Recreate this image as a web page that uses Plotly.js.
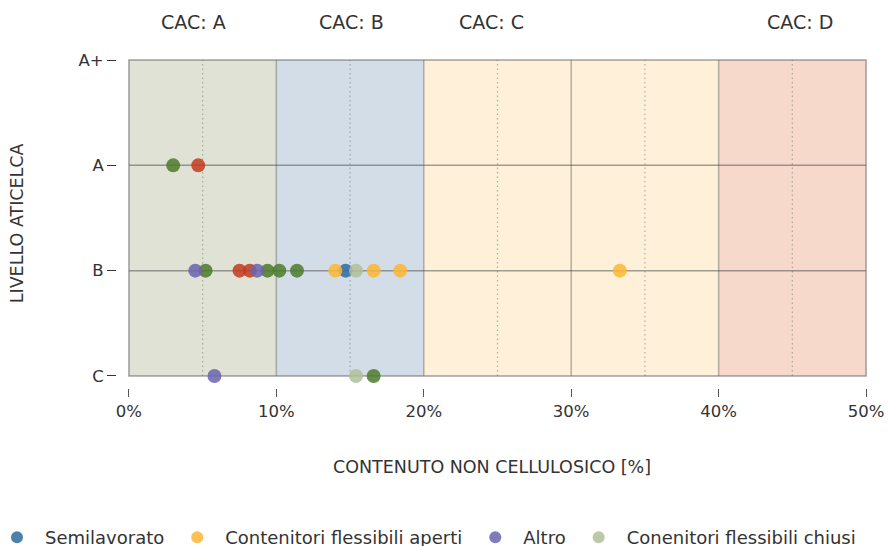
<!DOCTYPE html>
<html>
<head>
<meta charset="utf-8">
<script src="https://cdn.plot.ly/plotly-3.0.1.min.js"></script>
<style>html,body{margin:0;padding:0;background:#fff;}#chart{width:888px;height:546px;}</style>
</head>
<body>
<div id="chart"></div>
<script>
// Levels (bottom to top)
const levels = ['C', 'B', 'A', 'A+'];
const xTicks = [0, 10, 20, 30, 40, 50];

// CAC bands
const bandNames = ['CAC: A', 'CAC: B', 'CAC: C', 'CAC: D'];
const bandStart = [0, 10, 20, 40];
const bandEnd = [10, 20, 40, 50];
const bandLabelX = [4.4, 15.1, 24.6, 45.5];
const bandColors = ['#dfe2d4', '#d3dde8', '#fff0d9', '#f7d9cc'];

// Series
const semilavoratoX = [14.7];
const semilavoratoY = ['B'];
const apertiX = [14.0, 16.6, 18.4, 33.3];
const apertiY = ['B', 'B', 'B', 'B'];
const altroX = [4.5, 8.7, 5.8];
const altroY = ['B', 'B', 'C'];
const chiusiX = [15.4, 15.4];
const chiusiY = ['B', 'C'];
const greenX = [3.0, 5.2, 9.4, 10.2, 11.4, 16.6];
const greenY = ['A', 'B', 'B', 'B', 'B', 'C'];
const redX = [4.7, 7.5, 8.2];
const redY = ['A', 'B', 'B'];

const lv = arr => arr.map(v => levels.indexOf(v));

function tr(name, x, y, color, showlegend) {
  return {
    type: 'scatter', mode: 'markers', name: name,
    x: x, y: lv(y), showlegend: showlegend,
    marker: {color: color, size: 14, opacity: 0.85},
    hoverinfo: 'x+name'
  };
}

const data = [
  tr('Verde', greenX, greenY, '#4c7a2a', false),
  tr('Rosso', redX, redY, '#c23a1e', false),
  tr('Semilavorato', semilavoratoX, semilavoratoY, '#2f6a9e', true),
  tr('Contenitori flessibili aperti', apertiX, apertiY, '#fbb733', true),
  tr('Altro', altroX, altroY, '#6a64ae', true),
  tr('Conenitori flessibili chiusi', chiusiX, chiusiY, '#b0bf9a', true)
];

const shapes = [];
for (let i = 0; i < bandNames.length; i++) {
  shapes.push({type: 'rect', layer: 'below', xref: 'x', yref: 'y',
    x0: bandStart[i], x1: bandEnd[i], y0: 0, y1: levels.length - 1,
    fillcolor: bandColors[i], line: {width: 0}});
}
// dotted mid lines
[5, 15, 25, 35, 45].forEach(v => shapes.push({type: 'line', layer: 'below', xref: 'x', yref: 'y',
  x0: v, x1: v, y0: 0, y1: levels.length - 1, line: {color: 'rgba(120,120,120,0.55)', width: 1.2, dash: '1.5px,3px'}}));
// solid band lines
[10, 20, 30, 40].forEach(v => shapes.push({type: 'line', layer: 'below', xref: 'x', yref: 'y',
  x0: v, x1: v, y0: 0, y1: levels.length - 1, line: {color: 'rgba(110,110,100,0.5)', width: 1.5}}));
// horizontal level lines
[1, 2].forEach(v => shapes.push({type: 'line', layer: 'below', xref: 'x', yref: 'y',
  x0: 0, x1: 50, y0: v, y1: v, line: {color: 'rgba(70,70,70,0.5)', width: 1.5}}));
// frame
shapes.push({type: 'rect', layer: 'below', xref: 'x', yref: 'y', x0: 0, x1: 50, y0: 0, y1: levels.length - 1,
  line: {color: 'rgba(90,90,90,0.55)', width: 1.5}, fillcolor: 'rgba(0,0,0,0)'});

const FONT = 'DejaVu Sans, sans-serif';

const annotations = bandNames.map((t, i) => ({
  text: t, xref: 'x', yref: 'paper', x: bandLabelX[i], y: 1, yshift: 26,
  showarrow: false, font: {family: FONT, size: 19, color: '#333'}, yanchor: 'middle'
}));
annotations.push({text: 'CONTENUTO NON CELLULOSICO [%]', xref: 'x', yref: 'paper', x: 24.65, y: 0, yshift: -79,
  showarrow: false, font: {family: FONT, size: 17.5, color: '#333'}, yanchor: 'middle'});
annotations.push({text: 'LIVELLO ATICELCA', xref: 'paper', yref: 'y', x: 0, xshift: -100, y: 1.45,
  textangle: -90, showarrow: false, font: {family: FONT, size: 17.5, color: '#333'}, xanchor: 'center'});

const layout = {
  width: 888, height: 546,
  margin: {l: 117, r: 10, t: 48, b: 158, autoexpand: false},
  paper_bgcolor: '#fff', plot_bgcolor: '#fff',
  font: {family: FONT, color: '#333'},
  xaxis: {range: [-0.81, 50.81], tickvals: xTicks, ticktext: xTicks.map(v => v + '%'),
    showgrid: false, zeroline: false, showline: false, ticks: 'outside', ticklen: 8, tickwidth: 1,
    tickcolor: '#555', tickfont: {family: FONT, size: 16.5, color: '#333'}},
  yaxis: {range: [-0.114, 3.114], tickvals: [0, 1, 2, 3], ticktext: levels,
    showgrid: false, zeroline: false, showline: false, ticks: 'outside', ticklen: 9, tickwidth: 1.3,
    tickcolor: '#333', tickfont: {family: FONT, size: 16.5, color: '#333'}},
  shapes: shapes,
  annotations: annotations,
  showlegend: true,
  legend: {orientation: 'h', x: -0.1682, xanchor: 'left', y: -0.44, yanchor: 'middle', itemwidth: 46,
    font: {family: FONT, size: 18, color: '#333'}, itemsizing: 'constant', bgcolor: 'rgba(0,0,0,0)'}
};

Plotly.newPlot('chart', data, layout, {displayModeBar: false, responsive: false});
</script>
</body>
</html>
